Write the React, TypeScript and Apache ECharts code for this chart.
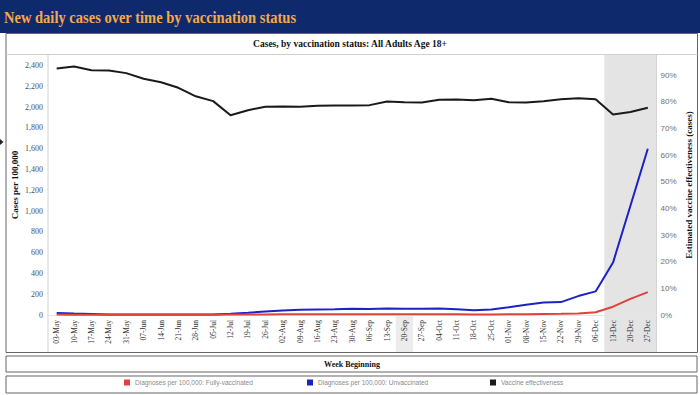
import React, { useEffect, useRef } from "react";
import * as echarts from "echarts";

const weeks = [
  "03-May", "10-May", "17-May", "24-May", "31-May",
  "07-Jun", "14-Jun", "21-Jun", "28-Jun",
  "05-Jul", "12-Jul", "19-Jul", "26-Jul",
  "02-Aug", "09-Aug", "16-Aug", "23-Aug", "30-Aug",
  "06-Sep", "13-Sep", "20-Sep", "27-Sep",
  "04-Oct", "11-Oct", "18-Oct", "25-Oct",
  "01-Nov", "08-Nov", "15-Nov", "22-Nov", "29-Nov",
  "06-Dec", "13-Dec", "20-Dec", "27-Dec",
];

const fullyVaccinated = [
  4, 3, 3, 3, 3, 3, 3, 3, 3, 3,
  4, 5, 6, 7, 8, 8, 8, 8, 8, 8,
  8, 8, 8, 7, 6, 6, 7, 8, 10, 12,
  15, 27, 80, 155, 220,
];

const unvaccinated = [
  19, 14, 10, 6, 5, 5, 5, 5, 5, 6,
  12, 21, 34, 43, 50, 53, 56, 60, 58, 63,
  60, 60, 63, 56, 46, 53, 75, 99, 121, 124,
  182, 227, 504, 1051, 1599,
];

const effectiveness = [
  92.4, 93.2, 91.8, 91.7, 90.7, 88.6, 87.3, 85.2, 82.0, 80.2,
  74.9, 76.8, 78.1, 78.2, 78.1, 78.5, 78.6, 78.6, 78.7, 80.1,
  79.8, 79.7, 80.7, 80.8, 80.5, 81.1, 79.8, 79.7, 80.2, 80.9,
  81.3, 80.9, 75.2, 76.1, 77.7,
];

const shadedWeeks = ["13-Dec", "20-Dec", "27-Dec"];
const highlightWeek = "20-Sep";

const seriesNames = [
  "Diagnoses per 100,000: Fully-vaccinated",
  "Diagnoses per 100,000: Unvaccinated",
  "Vaccine effectiveness",
];

const titleText = "New daily cases over time by vaccination status";
const subtitleText = "Cases, by vaccination status: All Adults Age 18+";
const xAxisTitle = "Week Beginning";
const leftAxisTitle = "Cases per 100,000";
const rightAxisTitle = "Estimated vaccine effectiveness (cases)";

export default function App() {
  const ref = useRef<HTMLDivElement>(null);

  useEffect(() => {
    document.body.style.margin = "0";
    const chart = echarts.init(ref.current!, null, { renderer: "svg" });
    const serif = "'Liberation Serif', 'Times New Roman', serif";
    const sans = "'Liberation Sans', Arial, sans-serif";
    const gLeft = 48;
    const gRight = 656.5;
    const gTop = 55;
    const gBottom = 315;
    const boxBottom = 352.5;

    const legendCommon = {
      icon: "rect",
      itemWidth: 6,
      itemHeight: 6,
      itemGap: 0,
      padding: 0,
      top: 379,
      selectedMode: false,
      textStyle: { fontSize: 6.5, color: "#8a8a8a", fontFamily: sans },
    };

    chart.setOption({
      animation: false,
      grid: {
        left: gLeft,
        top: gTop,
        width: gRight - gLeft,
        height: gBottom - gTop,
        containLabel: false,
        outerBoundsMode: "none",
      },
      legend: [
        { ...legendCommon, left: 124, data: [seriesNames[0]] },
        { ...legendCommon, left: 307, data: [seriesNames[1]] },
        { ...legendCommon, left: 490, data: [seriesNames[2]] },
      ],
      xAxis: {
        type: "category",
        data: weeks,
        boundaryGap: true,
        axisTick: { show: false },
        axisLine: { show: true, lineStyle: { color: "#e6e6e6", width: 1 } },
        axisLabel: {
          rotate: 90,
          interval: 0,
          fontSize: 7.5,
          fontFamily: serif,
          color: "#333",
          margin: 5,
        },
      },
      yAxis: [
        {
          type: "value",
          min: 0,
          max: 2500,
          interval: 200,
          name: leftAxisTitle,
          nameLocation: "middle",
          nameRotate: 90,
          nameGap: 29,
          nameMoveOverlap: false,
          nameTextStyle: { fontFamily: serif, fontWeight: "bold", fontSize: 9, color: "#111" },
          splitLine: { show: false },
          axisLine: { show: false },
          axisTick: { show: false },
          axisLabel: {
            fontSize: 8,
            fontFamily: serif,
            color: "#505050",
            margin: 5,
            formatter: (v: number) => (v % 200 === 0 ? v.toLocaleString("en-US") : ""),
          },
        },
        {
          type: "value",
          min: 0,
          max: 97.5,
          interval: 10,
          position: "right",
          name: rightAxisTitle,
          nameLocation: "middle",
          nameRotate: 90,
          nameGap: 28,
          nameMoveOverlap: false,
          nameTextStyle: { fontFamily: serif, fontWeight: "bold", fontSize: 9, color: "#111" },
          splitLine: { show: false },
          axisLine: { show: false },
          axisTick: { show: false },
          axisLabel: {
            fontSize: 8,
            fontFamily: sans,
            color: "#707070",
            margin: 4,
            formatter: (v: number) => (v % 10 === 0 ? v + "%" : ""),
          },
        },
      ],
      series: [
        {
          name: seriesNames[0],
          type: "line",
          yAxisIndex: 0,
          data: fullyVaccinated,
          symbol: "none",
          color: "#e0413a",
          lineStyle: { width: 2, color: "#e0413a" },
          z: 3,
        },
        {
          name: seriesNames[1],
          type: "line",
          yAxisIndex: 0,
          data: unvaccinated,
          symbol: "none",
          color: "#1d22c8",
          lineStyle: { width: 2, color: "#1d22c8" },
          z: 2,
        },
        {
          name: seriesNames[2],
          type: "line",
          yAxisIndex: 1,
          data: effectiveness,
          symbol: "none",
          color: "#1a1a1a",
          lineStyle: { width: 2, color: "#1a1a1a" },
          z: 4,
        },
      ],
    });

    const xOf = (c: string) => chart.convertToPixel({ xAxisIndex: 0 }, c) as number;
    const bw = xOf(weeks[1]) - xOf(weeks[0]);
    const shadeStart = xOf(shadedWeeks[0]) - bw / 2;
    const hlStart = xOf(highlightWeek) - bw / 2;

    chart.setOption({
      graphic: {
        elements: [
          {
            type: "rect",
            z: -1,
            shape: { x: shadeStart, y: gTop, width: gRight - shadeStart, height: boxBottom - gTop },
            style: { fill: "#e4e4e4" },
          },
          {
            type: "rect",
            z: -1,
            shape: { x: hlStart, y: gBottom + 1, width: bw, height: boxBottom - gBottom - 1 },
            style: { fill: "#ececec" },
          },
          {
            type: "line",
            shape: { x1: gLeft, y1: gTop, x2: gLeft, y2: boxBottom },
            style: { stroke: "#d4d4d4", lineWidth: 1 },
          },
          {
            type: "line",
            shape: { x1: gRight, y1: gTop, x2: gRight, y2: boxBottom },
            style: { stroke: "#d4d4d4", lineWidth: 1 },
          },
          {
            type: "rect",
            shape: { x: 0, y: 0, width: 700, height: 33 },
            style: { fill: "#0f2a6c" },
          },
          {
            type: "text",
            x: 4,
            y: 17,
            scaleX: 0.855,
            style: {
              text: titleText,
              fill: "#f4a94a",
              font: `bold 17px ${serif}`,
              verticalAlign: "middle",
              align: "left",
            },
          },
          {
            type: "rect",
            shape: { x: 6, y: 33.5, width: 691.5, height: boxBottom - 33.5 },
            style: { fill: "none", stroke: "#666", lineWidth: 1 },
          },
          {
            type: "line",
            shape: { x1: 6, y1: 54.5, x2: 697.5, y2: 54.5 },
            style: { stroke: "#d0d0d0", lineWidth: 1 },
          },
          {
            type: "text",
            x: 350,
            y: 44,
            style: {
              text: subtitleText,
              fill: "#111",
              font: `bold 9.5px ${serif}`,
              verticalAlign: "middle",
              align: "center",
            },
          },
          {
            type: "rect",
            shape: { x: 6, y: 356, width: 691, height: 16 },
            style: { fill: "none", stroke: "#666", lineWidth: 1 },
          },
          {
            type: "text",
            x: 352,
            y: 364,
            style: {
              text: xAxisTitle,
              fill: "#111",
              font: `bold 8px ${serif}`,
              verticalAlign: "middle",
              align: "center",
            },
          },
          {
            type: "rect",
            shape: { x: 6, y: 376, width: 691, height: 17 },
            style: { fill: "none", stroke: "#666", lineWidth: 1 },
          },
          {
            type: "polygon",
            shape: { points: [[0, 139], [3.5, 142], [0, 145]] },
            style: { fill: "#222" },
          },
        ],
      },
    });

    return () => chart.dispose();
  }, []);

  return <div ref={ref} style={{ width: 700, height: 395 }} />;
}
